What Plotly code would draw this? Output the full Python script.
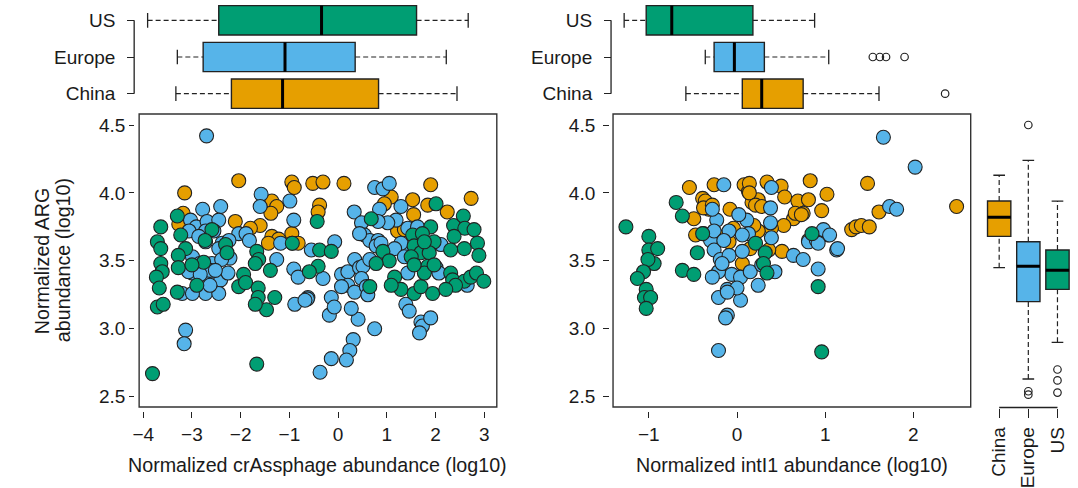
import plotly.graph_objects as go

W, H = 1078, 488
FONT = "Liberation Sans, Arial, Helvetica, sans-serif"
TXT = "#1a1a1a"
EDGE = "#222222"
COL = {"China": "#E69F00", "Europe": "#56B4E9", "US": "#009E73"}
groups = ["China", "Europe", "US"]

# ---------------- scatter data: crAssphage (x) vs ARG (y) ----------------
china_crass_x = [-2.04, -3.15, -0.95, -0.90, -1.36, -1.26, -1.38, -0.95, -0.94, -0.82, -1.36, -1.22,
                 -1.43, -1.60, -2.11, -1.80, -3.18, -3.27, -0.52, -0.31, -0.38, -0.41, 0.12, 1.90,
                 2.73, 1.09, 0.95, 1.53, 1.84, 2.24, 1.55, 1.22, 1.36]
china_crass_y = [4.09, 4.00, 4.08, 4.04, 3.94, 3.90, 3.85, 3.70, 3.63, 3.63, 3.68, 3.66,
                 3.63, 3.76, 3.79, 3.74, 3.85, 3.77, 4.07, 4.08, 3.91, 3.86, 4.07, 4.06,
                 3.96, 3.97, 3.92, 3.95, 3.91, 3.86, 3.84, 3.72, 3.73]

europe_crass_x = [-2.70, -1.58, -1.60, -0.99, -0.91, -1.18, -2.04, -1.89, -1.82, -2.41, -2.78, -3.03,
                  -2.91, -3.06, -2.69, -2.45, -2.72, -2.55, -2.86, -2.72, -2.38, -2.24, -2.45, -2.99,
                  -2.84, -2.59, -2.99, -2.72, -2.50, -2.41, -2.26, -1.26, -0.91, -0.82, -2.89, -2.72,
                  -2.45, -3.20, -2.99, -0.55, -0.07, -0.62, -0.89, -0.31, -0.14, -0.18, -0.08, 0.75,
                  0.92, 1.05, 1.29, 0.85, 0.33, 1.19, 1.02, 0.82, 0.48, 0.54, 0.65, 0.82,
                  1.43, 1.63, 2.11, 1.39, 1.29, 1.16, 0.78, 0.88, 0.44, 0.07, 0.20, 0.34,
                  0.44, 0.51, 0.65, 0.48, 0.20, 0.07, 0.34, 0.58, 2.01, 2.07, 1.36, 1.43,
                  2.38, 2.65, -0.63, 0.41, 0.27, 0.61, 0.75, 0.31, 0.24, 0.17, -0.14, -0.37,
                  1.39, 1.46, 1.70, 1.73, 1.90, 1.67, -3.13, -3.16, -0.68, -3.07, -2.63, -2.63,
                  -2.83, -2.22, -2.39, -2.52]
europe_crass_y = [4.42, 3.99, 3.90, 3.94, 3.80, 3.63, 3.70, 3.70, 3.65, 3.90, 3.88, 3.80,
                  3.75, 3.72, 3.79, 3.80, 3.72, 3.72, 3.68, 3.64, 3.63, 3.65, 3.59, 3.53,
                  3.48, 3.48, 3.41, 3.40, 3.37, 3.36, 3.41, 3.51, 3.44, 3.38, 3.29, 3.26,
                  3.26, 3.26, 3.26, 3.58, 3.64, 3.23, 3.18, 3.37, 3.23, 3.10, 3.16, 4.04,
                  4.03, 4.07, 3.90, 3.88, 3.86, 3.80, 3.78, 3.79, 3.78, 3.69, 3.65, 3.65,
                  3.74, 3.75, 3.62, 3.57, 3.63, 3.59, 3.61, 3.63, 3.70, 3.40, 3.42, 3.51,
                  3.45, 3.46, 3.51, 3.37, 3.32, 3.31, 3.27, 3.31, 3.45, 3.41, 3.53, 3.41,
                  3.34, 3.32, 3.22, 3.07, 3.15, 3.25, 3.00, 2.92, 2.84, 2.77, 2.78, 2.68,
                  3.18, 3.13, 3.05, 3.02, 3.08, 2.97, 2.99, 2.89, 3.21, 3.42, 3.43, 3.32,
                  3.40, 3.52, 3.51, 3.43]

us_crass_x = [-0.94, -3.30, -3.64, -3.23, -2.59, -3.71, -3.64, -3.13, -2.31, -2.28, -2.73, -3.64,
              -3.61, -3.73, -3.28, -3.28, -2.76, -1.67, -1.63, -1.39, -1.70, -1.94, -2.04, -1.90,
              -3.30, -3.67, -0.43, -0.38, -0.14, -3.00, -2.90, -3.71, -3.59, -1.64, -1.64, -1.47,
              -1.30, -1.70, -0.41, -0.59, -3.81, -1.67, 0.68, 2.01, 1.90, 1.53, 1.73, 2.37,
              2.57, 2.60, 2.79, 2.38, 1.97, 2.86, 2.89, 2.59, 2.31, 1.56, 1.70, 1.87,
              1.77, 0.92, 1.05, 0.78, 0.65, 1.16, 1.29, 1.09, 1.56, 1.70, 1.84, 1.77,
              1.97, 1.50, 1.56, 1.94, 2.31, 2.35, 2.59, 2.72, 2.84, 2.99, 2.41, 2.21]
us_crass_y = [3.63, 3.83, 3.75, 3.69, 3.73, 3.64, 3.59, 3.59, 3.62, 3.56, 3.65, 3.48,
              3.42, 3.38, 3.54, 3.45, 3.49, 3.57, 3.51, 3.43, 3.48, 3.40, 3.31, 3.34,
              3.27, 3.30, 3.79, 3.58, 3.57, 3.47, 3.32, 3.16, 3.18, 3.30, 3.23, 3.14,
              3.23, 3.18, 3.46, 3.42, 2.67, 2.74, 3.81, 3.92, 3.75, 3.69, 3.70, 3.76,
              3.83, 3.74, 3.73, 3.68, 3.64, 3.63, 3.54, 3.59, 3.58, 3.61, 3.56, 3.56,
              3.64, 3.57, 3.50, 3.48, 3.31, 3.38, 3.29, 3.32, 3.26, 3.31, 3.46, 3.41,
              3.47, 3.53, 3.47, 3.26, 3.41, 3.36, 3.35, 3.38, 3.41, 3.35, 3.32, 3.29]

# ---------------- scatter data: intI1 (x) vs ARG (y) ----------------
china_int_x = [-0.54, -0.26, -0.39, -0.36, -0.32, -0.49, -0.47, -0.38, 0.08, 0.13, 0.17, 0.24,
               0.34, -0.08, 0.06, 0.14, 0.14, 0.50, 0.54, 0.83, 1.02, 0.96, 0.69, 0.75,
               0.64, 0.53, 0.39, 0.24, 0.21, 0.28, -0.36, -0.38, -0.28, -0.21, -0.09, -0.04,
               0.15, 0.19, 0.81, 0.96, 0.51, 0.81, 0.66, 0.73, 1.48, 2.49, 1.61, 1.30,
               1.35, 1.41, 1.50, 0.36]
china_int_y = [4.04, 4.06, 3.96, 3.92, 3.88, 3.81, 3.69, 3.70, 4.06, 4.01, 3.93, 3.95,
               4.08, 3.88, 3.48, 4.07, 4.00, 4.05, 3.97, 4.09, 3.99, 3.87, 3.94, 3.85,
               3.81, 3.76, 3.74, 3.72, 3.91, 3.90, 3.94, 3.89, 3.91, 3.68, 3.64, 3.74,
               3.59, 3.76, 3.65, 3.70, 3.57, 3.95, 3.85, 3.84, 4.07, 3.90, 3.86, 3.73,
               3.75, 3.76, 3.75, 3.58]

europe_int_x = [-0.15, 0.39, 0.38, 0.38, 0.39, 0.11, 0.02, 0.13, 0.06, -0.09, -0.23, -0.28,
                -0.30, -0.26, -0.19, -0.09, 0.06, -0.06, 0.04, 0.15, 0.28, 0.43, 0.64, 0.75,
                0.92, -0.21, -0.28, -0.11, -0.21, 0.04, 0.00, -0.11, 0.81, 0.90, 1.03, 1.13,
                1.66, 2.02, 1.73, 1.81, 0.98, 1.05, 0.92, 1.14, -0.11, -0.13, -0.21, 0.24,
                -0.26, -0.15, -0.17]
europe_int_y = [4.06, 4.04, 3.89, 3.78, 3.67, 3.80, 3.84, 3.70, 3.69, 3.72, 3.80, 3.88,
                3.65, 3.58, 3.51, 3.54, 3.57, 3.40, 3.38, 3.42, 3.47, 3.42, 3.54, 3.51,
                3.44, 3.42, 3.38, 3.29, 3.23, 3.21, 3.30, 3.10, 3.64, 3.65, 3.69, 3.58,
                4.41, 4.19, 3.90, 3.88, 3.73, 3.69, 3.63, 3.59, 3.27, 3.08, 2.84, 3.32,
                3.72, 3.65, 3.48]

us_int_x = [-1.26, -0.69, -0.62, -0.39, -0.45, -0.62, -0.49, -1.00, -1.00, -0.90, -0.94, -1.01,
            -1.06, -1.13, -1.03, -1.05, -0.98, -1.03, 0.21, 0.32, 0.30, 0.34, 0.85, 0.92, 0.96]
us_int_y = [3.75, 3.93, 3.83, 3.70, 3.56, 3.43, 3.40, 3.68, 3.58, 3.59, 3.48, 3.51,
            3.42, 3.37, 3.29, 3.23, 3.23, 3.15, 3.63, 3.56, 3.48, 3.41, 3.70, 3.31, 2.83]

# ---------------- box summaries (order: China, Europe, US) ----------------
crass_lw = [-3.33, -3.30, -3.91]
crass_q1 = [-2.19, -2.77, -2.45]
crass_med = [-1.14, -1.09, -0.34]
crass_q3 = [0.83, 0.35, 1.61]
crass_uw = [2.44, 2.22, 2.67]
crass_out = [[], [], []]

int_lw = [-0.58, -0.36, -1.28]
int_q1 = [0.06, -0.26, -1.03]
int_med = [0.28, -0.03, -0.74]
int_q3 = [0.75, 0.31, 0.18]
int_uw = [1.61, 1.04, 0.88]
int_out = [[2.36], [1.54, 1.62, 1.69, 1.90], []]

arg_lw = [3.45, 2.63, 2.90]
arg_q1 = [3.68, 3.20, 3.29]
arg_med = [3.82, 3.46, 3.43]
arg_q3 = [3.94, 3.64, 3.58]
arg_uw = [4.13, 4.24, 3.94]
arg_out = [[], [4.50, 2.54, 2.515], [2.70, 2.62, 2.53]]

crass_ticks = [-4, -3, -2, -1, 0, 1, 2, 3]
int_ticks = [-1, 0, 1, 2]
arg_ticks = [2.5, 3.0, 3.5, 4.0, 4.5]

crass_range = [-4.084, 3.257]
int_range = [-1.406, 2.650]
arg_range = [2.424, 4.581]

fig = go.Figure()

def px2x(p):
    return p / W

def px2y(p):
    return 1 - p / H

# scatter panels
scatter_sets = [
    ("x", "y", [(china_crass_x, china_crass_y), (europe_crass_x, europe_crass_y), (us_crass_x, us_crass_y)]),
    ("x2", "y2", [(china_int_x, china_int_y), (europe_int_x, europe_int_y), (us_int_x, us_int_y)]),
]
for xa, ya, sets in scatter_sets:
    for g, (xs, ys) in zip(groups, sets):
        fig.add_trace(go.Scatter(
            x=xs, y=ys, mode="markers", xaxis=xa, yaxis=ya, showlegend=False, hoverinfo="skip",
            marker=dict(size=14, color=COL[g], line=dict(color=EDGE, width=1.1)),
        ))

def add_box(xa, ya, horizontal, lw, q1, med, q3, uw, outs):
    for i, g in enumerate(groups):
        pos = i + 1
        if horizontal:
            fig.add_trace(go.Box(
                y=[pos], q1=[q1[i]], median=[med[i]], q3=[q3[i]], lowerfence=[q1[i]], upperfence=[q3[i]],
                orientation="h", width=0.8, whiskerwidth=0, fillcolor=COL[g],
                line=dict(color=EDGE, width=1.4), boxpoints=False, xaxis=xa, yaxis=ya,
                showlegend=False, hoverinfo="skip"))
            wx, wy = [lw[i], q1[i], None, q3[i], uw[i]], [pos, pos, None, pos, pos]
            cx, cy = [lw[i], lw[i], None, uw[i], uw[i]], [pos - 0.2, pos + 0.2, None, pos - 0.2, pos + 0.2]
            mx, my = [med[i], med[i]], [pos - 0.4, pos + 0.4]
            ox, oy = outs[i], [pos] * len(outs[i])
        else:
            fig.add_trace(go.Box(
                x=[pos], q1=[q1[i]], median=[med[i]], q3=[q3[i]], lowerfence=[q1[i]], upperfence=[q3[i]],
                orientation="v", width=0.8, whiskerwidth=0, fillcolor=COL[g],
                line=dict(color=EDGE, width=1.4), boxpoints=False, xaxis=xa, yaxis=ya,
                showlegend=False, hoverinfo="skip"))
            wy, wx = [lw[i], q1[i], None, q3[i], uw[i]], [pos, pos, None, pos, pos]
            cy, cx = [lw[i], lw[i], None, uw[i], uw[i]], [pos - 0.2, pos + 0.2, None, pos - 0.2, pos + 0.2]
            my, mx = [med[i], med[i]], [pos - 0.4, pos + 0.4]
            oy, ox = outs[i], [pos] * len(outs[i])
        fig.add_trace(go.Scatter(x=wx, y=wy, mode="lines", xaxis=xa, yaxis=ya, showlegend=False,
                                 hoverinfo="skip", line=dict(color=EDGE, width=1.2, dash="5px,3px")))
        fig.add_trace(go.Scatter(x=cx, y=cy, mode="lines", xaxis=xa, yaxis=ya, showlegend=False,
                                 hoverinfo="skip", line=dict(color=EDGE, width=1.3)))
        fig.add_trace(go.Scatter(x=mx, y=my, mode="lines", xaxis=xa, yaxis=ya, showlegend=False,
                                 hoverinfo="skip", line=dict(color="black", width=3)))
        if outs[i]:
            fig.add_trace(go.Scatter(x=ox, y=oy, mode="markers", xaxis=xa, yaxis=ya, showlegend=False,
                                     hoverinfo="skip",
                                     marker=dict(symbol="circle-open", size=7.5, color=EDGE,
                                                 line=dict(width=1.2, color=EDGE))))

add_box("x3", "y3", True, crass_lw, crass_q1, crass_med, crass_q3, crass_uw, crass_out)
add_box("x4", "y4", True, int_lw, int_q1, int_med, int_q3, int_uw, int_out)
add_box("x5", "y5", False, arg_lw, arg_q1, arg_med, arg_q3, arg_uw, arg_out)

tickfont = dict(family=FONT, size=19, color=TXT)
hidden = dict(visible=False, showgrid=False, zeroline=False)

def num_labels(vals, fmt):
    return [fmt.format(v).replace("-", "\u2212") for v in vals]

L0, L1 = 133, 493
R0, R1 = 610, 970
T, B = 114, 407

common_tick = dict(ticks="outside", tickwidth=1.3, tickcolor=EDGE, showline=False, showgrid=False,
                   zeroline=False, tickfont=tickfont, tickmode="array")

fig.update_layout(
    width=W, height=H, margin=dict(l=0, r=0, t=0, b=0),
    paper_bgcolor="white", plot_bgcolor="white", showlegend=False,
    font=dict(family=FONT, size=19, color=TXT),
    xaxis=dict(domain=[px2x(L0), px2x(L1)], range=crass_range, anchor="free", position=px2y(411),
               tickvals=crass_ticks, ticktext=num_labels(crass_ticks, "{:d}"), ticklen=6,
               ticklabelstandoff=0, **common_tick),
    yaxis=dict(domain=[px2y(B), px2y(T)], range=arg_range, anchor="free", position=px2x(128),
               tickvals=arg_ticks, ticktext=num_labels(arg_ticks, "{:.1f}"), ticklen=5, **common_tick),
    xaxis2=dict(domain=[px2x(R0), px2x(R1)], range=int_range, anchor="free", position=px2y(411),
                tickvals=int_ticks, ticktext=num_labels(int_ticks, "{:d}"), ticklen=6,
                ticklabelstandoff=0, **common_tick),
    yaxis2=dict(domain=[px2y(B), px2y(T)], range=arg_range, anchor="free", position=px2x(606),
                tickvals=arg_ticks, ticktext=num_labels(arg_ticks, "{:.1f}"), ticklen=6,
                ticklabelstandoff=4, **common_tick),
    xaxis3=dict(domain=[px2x(L0), px2x(L1)], range=crass_range, anchor="y3", **hidden),
    yaxis3=dict(domain=[px2y(112), px2y(2)], range=[0.5, 3.5], anchor="free", position=px2x(128),
                tickvals=[1, 2, 3], ticktext=groups, ticklen=7, ticklabelstandoff=8, **common_tick),
    xaxis4=dict(domain=[px2x(R0), px2x(R1)], range=int_range, anchor="y4", **hidden),
    yaxis4=dict(domain=[px2y(112), px2y(2)], range=[0.5, 3.5], anchor="free", position=px2x(608),
                tickvals=[1, 2, 3], ticktext=groups, ticklen=7, ticklabelstandoff=8, **common_tick),
    xaxis5=dict(domain=[px2x(984), px2x(1072)], range=[0.5, 3.5], anchor="free", position=px2y(407.5),
                tickvals=[1, 2, 3], ticktext=groups, tickangle=-90, ticklen=9, ticklabelstandoff=2,
                **common_tick),
    yaxis5=dict(domain=[px2y(B), px2y(T)], range=arg_range, anchor="x5", **hidden),
)

shapes = []
for xa, ya in [("x", "y"), ("x2", "y2")]:
    shapes.append(dict(type="rect", xref=f"{xa} domain", yref=f"{ya} domain", x0=0, x1=1, y0=0, y1=1,
                       line=dict(color="#333333", width=1.4), layer="above"))
# category-axis brackets (span first to last category)
shapes.append(dict(type="line", xref="paper", yref="y3", x0=px2x(128), x1=px2x(128), y0=1, y1=3,
                   line=dict(color=EDGE, width=1.3)))
shapes.append(dict(type="line", xref="paper", yref="y4", x0=px2x(608), x1=px2x(608), y0=1, y1=3,
                   line=dict(color=EDGE, width=1.3)))
shapes.append(dict(type="line", xref="x5", yref="paper", x0=1, x1=3, y0=px2y(407.5), y1=px2y(407.5),
                   line=dict(color=EDGE, width=1.3)))
fig.update_layout(shapes=shapes)

title_font = dict(family=FONT, size=19.7, color=TXT)
ymid = px2y((T + B) / 2)
fig.update_layout(annotations=[
    dict(text="Normalized crAssphage abundance (log10)", xref="x domain", yref="paper", x=0.5,
         y=px2y(465), xanchor="center", yanchor="middle", showarrow=False, font=title_font),
    dict(text="Normalized intI1 abundance (log10)", xref="x2 domain", yref="paper", x=0.5,
         y=px2y(465), xanchor="center", yanchor="middle", showarrow=False, font=title_font),
    dict(text="Normalized ARG", xref="paper", yref="paper", x=px2x(35), y=ymid,
         xanchor="center", yanchor="middle", textangle=-90, showarrow=False, font=title_font),
    dict(text="abundance (log10)", xref="paper", yref="paper", x=px2x(56), y=ymid,
         xanchor="center", yanchor="middle", textangle=-90, showarrow=False, font=title_font),
])

fig.write_html("out.html")
